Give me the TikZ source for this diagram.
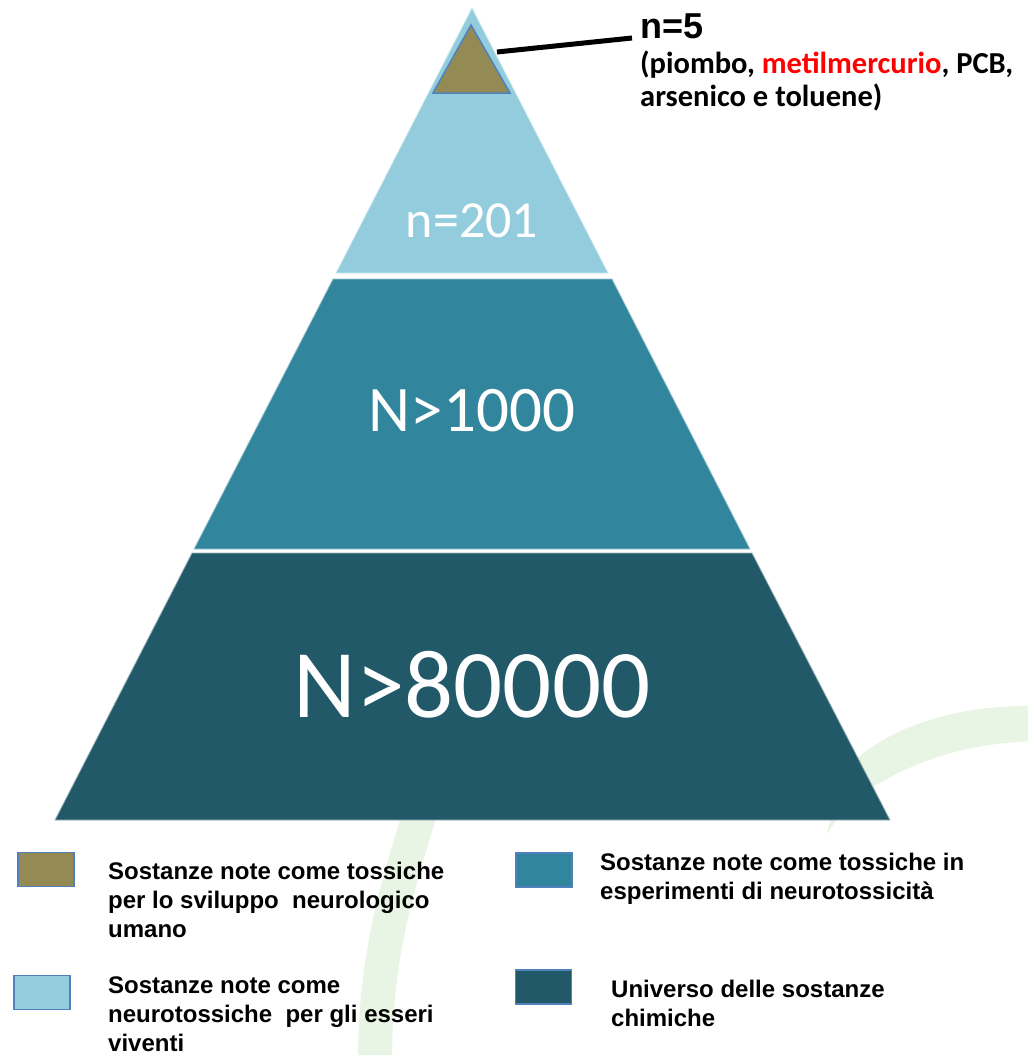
\documentclass[tikz,border=0pt]{standalone}
\usepackage{fontspec}
\setmainfont{Liberation Sans}
\newfontfamily\calibri{Carlito}
\definecolor{lvlA}{HTML}{93CDDD}
\definecolor{lvlB}{HTML}{31859C}
\definecolor{lvlC}{HTML}{215968}
\definecolor{olivebox}{HTML}{948A54}
\definecolor{boxline}{HTML}{4F81BD}
\definecolor{swoosh}{HTML}{E9F5E4}
\definecolor{redtxt}{HTML}{FF0000}
\tikzset{
  layerA/.style={fill=lvlA,draw=white!55!lvlA,line width=0.8pt},
  layerB/.style={fill=lvlB,draw=white!55!lvlB,line width=0.8pt},
  layerC/.style={fill=lvlC,draw=white!55!lvlC,line width=0.8pt},
  numlbl/.style={text=white,inner sep=0pt,font=\calibri},
  legbox/.style={draw=boxline,line width=1.5pt,minimum width=56pt,minimum height=34pt,inner sep=0pt},
  legtxt/.style={anchor=north west,align=left,inner sep=0pt,font=\bfseries\fontsize{24}{29}\selectfont},
}
\begin{document}
\begin{tikzpicture}[x=1pt,y=-1pt]
\useasboundingbox (0,0) rectangle (1028,1055);
% faint background swooshes
\draw[swoosh,line width=34pt] (424,800) .. controls (396,890) and (374,960) .. (375,1070);
\fill[swoosh] (1040,706) .. controls (960,704) and (895,725) .. (855,760)
   .. controls (842,780) and (832,810) .. (827,834)
   .. controls (845,805) and (865,790) .. (885,780)
   .. controls (930,755) and (980,742) .. (1040,741) -- cycle;
% pyramid layers
\filldraw[layerA] (472,8) -- (608,273) -- (336,273) -- cycle;
\filldraw[layerB] (333,279) -- (612,279) -- (750,549) -- (194,549) -- cycle;
\filldraw[layerC] (192,553) -- (752,553) -- (890,820) -- (55,820) -- cycle;
% small top triangle
\filldraw[fill=olivebox,draw=boxline,line width=1.5pt] (471,25) -- (510,93) -- (433,93) -- cycle;
\coordinate (tipR) at (497,52);
\coordinate (lineEnd) at (632,38);
\draw[line width=5pt] (tipR) -- (lineEnd);
% labels
\node[numlbl,font=\calibri\fontsize{52}{52}\selectfont] (n201) at (472,221) {n=201};
\node[numlbl,font=\calibri\fontsize{65}{65}\selectfont] (n1000) at (472,411) {N>1000};
\node[numlbl,font=\calibri\fontsize{97}{97}\selectfont] (n80000) at (472,685) {N>80000};
\node[anchor=base west,inner sep=0pt,font=\bfseries\fontsize{36}{36}\selectfont] (n5) at (640,38) {n=5};
\node[anchor=north west,align=left,inner sep=0pt,font=\calibri\bfseries\fontsize{30.5}{33}\selectfont] (list) at (640,51)
  {(piombo, \textcolor{redtxt}{metilmercurio}, PCB,\\arsenico e toluene)};
% legend
\node[legbox,fill=olivebox] (b1) at (46,869.5) {};
\node[legbox,fill=lvlA] (b2) at (42,992.5) {};
\node[legbox,fill=lvlB] (b3) at (544,870) {};
\node[legbox,fill=lvlC] (b4) at (543.5,987) {};
\node[legtxt] (t1) at (108,862) {Sostanze note come tossiche\\per lo sviluppo\ \ neurologico\\umano};
\node[legtxt] (t2) at (108,977) {Sostanze note come\\neurotossiche\ \ per gli esseri\\viventi};
\node[legtxt] (t3) at (600,853) {Sostanze note come tossiche in\\esperimenti di neurotossicità};
\node[legtxt] (t4) at (611,980) {Universo delle sostanze\\chimiche};
\end{tikzpicture}
\end{document}
